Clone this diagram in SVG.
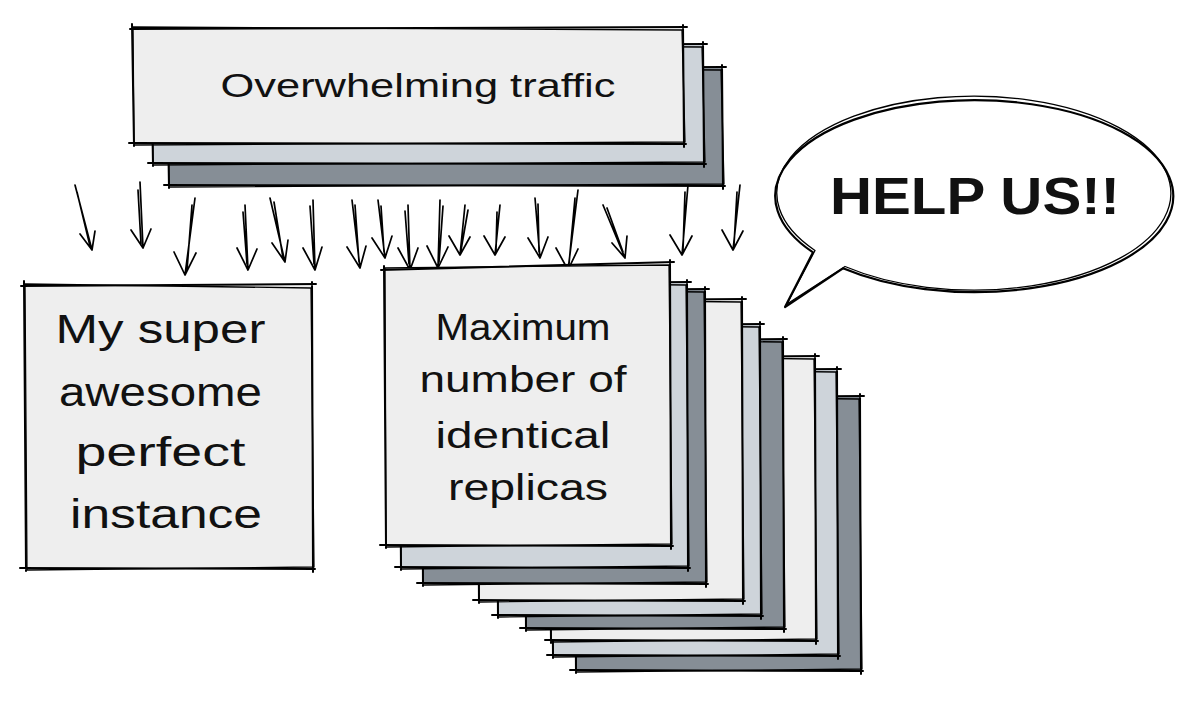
<svg xmlns="http://www.w3.org/2000/svg" width="1200" height="701" viewBox="0 0 1200 701">
<style>
.sk{fill:none;stroke:#000;stroke-width:2;stroke-linecap:round;stroke-linejoin:round}
.sk2{fill:none;stroke:#000;stroke-width:1.3;stroke-linecap:round;stroke-linejoin:round}
.lt{fill:#eeeeee}.bl{fill:#ced4da}.gr{fill:#868e96}
.t{font-family:"Liberation Sans",Arial,sans-serif;fill:#111;text-anchor:middle}
.arr path{fill:none;stroke:#000;stroke-width:1.7;stroke-linecap:round;stroke-linejoin:round}
</style>
<rect width="1200" height="701" fill="#fff"/>

<g id="traffic">
  <rect class="gr" x="168" y="68" width="554" height="117"/>
  <path class="sk" d="M165 69 L726 67 M722 65 L723 189 M725 186 L164 185 M169 188 L167 64"/>
  <path class="sk2" d="M168 67 L721 70 L724 184 L169 187 Z"/>
  <rect class="bl" x="152" y="45" width="551" height="118"/>
  <path class="sk" d="M149 46 L707 44 M703 42 L704 167 M706 164 L148 163 M153 166 L151 41"/>
  <path class="sk2" d="M152 44 L702 47 L705 162 L153 165 Z"/>
  <rect class="lt" x="133" y="28" width="550" height="115"/>
  <path class="sk" d="M130 29 L687 27 M683 25 L684 147 M686 144 L129 143 M134 146 L132 24"/>
  <path class="sk2" d="M133 27 L682 30 L685 142 L134 145 Z"/>
  <text class="t" x="418" y="97" font-size="34" textLength="395" lengthAdjust="spacingAndGlyphs">Overwhelming traffic</text>
</g>

<g id="connectors" class="arr">
  <path d="M75 185 L92 250 M77 192 L90 246 M80 234 L92 250 L95 231"/>
  <path d="M140 182 L143 248 M138 190 L141 244 M131 230 L143 248 L151 229"/>
  <path d="M195 198 L185 275 M192 205 L187 270 M174 252 L185 275 L196 253"/>
  <path d="M245 205 L248 270 M243 212 L247 264 M237 248 L248 270 L257 249"/>
  <path d="M270 198 L285 262 M274 202 L283 258 M272 243 L285 262 L288 240"/>
  <path d="M313 200 L315 270 M310 206 L314 264 M303 248 L315 270 L322 247"/>
  <path d="M352 200 L360 268 M355 205 L359 262 M347 247 L360 268 L366 246"/>
  <path d="M378 200 L385 258 M381 206 L384 252 M372 238 L385 258 L392 236"/>
  <path d="M408 205 L410 270 M405 211 L409 264 M398 248 L410 270 L418 248"/>
  <path d="M440 200 L438 268 M443 206 L439 262 M427 246 L438 268 L448 247"/>
  <path d="M465 205 L460 255 M468 210 L461 250 M449 236 L460 255 L470 237"/>
  <path d="M500 205 L495 255 M497 212 L496 250 M484 236 L495 255 L505 237"/>
  <path d="M535 198 L540 258 M538 204 L539 252 M528 238 L540 258 L548 237"/>
  <path d="M578 190 L568 270 M575 198 L569 264 M556 248 L568 270 L578 249"/>
  <path d="M603 205 L625 258 M607 208 L623 252 M612 243 L625 258 L627 236"/>
  <path d="M688 185 L682 255 M685 192 L683 250 M670 235 L682 255 L692 236"/>
  <path d="M740 185 L733 250 M737 192 L734 245 M722 230 L733 250 L743 231"/>
</g>

<g id="instance">
  <rect class="lt" x="25" y="285" width="287" height="283"/>
  <path class="sk" d="M21 286 L316 284 M312 282 L313 572 M315 569 L20 568 M26 571 L24 281"/>
  <path class="sk2" d="M25 284 L311 288 L314 567 L27 570 Z"/>
  <text class="t" font-size="40">
    <tspan x="166" y="343" textLength="210" lengthAdjust="spacingAndGlyphs">My super</tspan>
    <tspan x="166" y="406" textLength="203" lengthAdjust="spacingAndGlyphs">awesome</tspan>
    <tspan x="166" y="466" textLength="170" lengthAdjust="spacingAndGlyphs">perfect</tspan>
    <tspan x="166" y="528" textLength="192" lengthAdjust="spacingAndGlyphs">instance</tspan>
  </text>
</g>

<g id="replicas">
  <rect class="gr" x="575" y="397" width="285" height="273"/>
  <path class="sk" d="M571 398 L864 396 M860 394 L861 674 M863 671 L570 670 M576 673 L574 393"/>
  <path class="sk2" d="M575 396 L859 399 L862 669 L576 672 Z"/>
  <rect class="bl" x="552" y="370" width="285" height="285"/>
  <path class="sk" d="M548 371 L841 369 M837 367 L838 659 M840 656 L547 655 M553 658 L551 366"/>
  <path class="sk2" d="M552 369 L836 372 L839 654 L553 657 Z"/>
  <rect class="lt" x="550" y="357" width="265" height="283"/>
  <path class="sk" d="M546 358 L819 356 M815 354 L816 644 M818 641 L545 640 M551 643 L549 353"/>
  <path class="sk2" d="M550 356 L814 359 L817 639 L551 642 Z"/>
  <rect class="gr" x="525" y="340" width="258" height="288"/>
  <path class="sk" d="M521 341 L787 339 M783 337 L784 632 M786 629 L520 628 M526 631 L524 336"/>
  <path class="sk2" d="M525 339 L782 342 L785 627 L526 630 Z"/>
  <rect class="bl" x="497" y="325" width="263" height="290"/>
  <path class="sk" d="M493 326 L764 324 M760 322 L761 619 M763 616 L492 615 M498 618 L496 321"/>
  <path class="sk2" d="M497 324 L759 327 L762 614 L498 617 Z"/>
  <rect class="lt" x="478" y="300" width="264" height="300"/>
  <path class="sk" d="M474 301 L746 299 M742 297 L743 604 M745 601 L473 600 M479 603 L477 296"/>
  <path class="sk2" d="M478 299 L741 302 L744 599 L479 602 Z"/>
  <rect class="gr" x="422" y="290" width="283" height="293"/>
  <path class="sk" d="M418 291 L709 289 M705 287 L706 587 M708 584 L417 583 M423 586 L421 286"/>
  <path class="sk2" d="M422 289 L704 292 L707 582 L423 585 Z"/>
  <rect class="bl" x="400" y="283" width="287" height="284"/>
  <path class="sk" d="M396 284 L691 282 M687 280 L688 571 M690 568 L395 567 M401 570 L399 279"/>
  <path class="sk2" d="M400 282 L686 285 L689 566 L401 569 Z"/>
  <path class="lt" d="M385 268 L669 265 L671 545 L386 546 Z"/>
  <path class="sk" d="M381 270 L674 262 M670 260 L671 549 M673 546 L380 545 M386 548 L384 266"/>
  <path class="sk2" d="M385 268 L669 265 L672 544 L386 547 Z"/>
  <text class="t" font-size="36">
    <tspan x="528" y="340" textLength="175" lengthAdjust="spacingAndGlyphs">Maximum</tspan>
    <tspan x="528" y="392" textLength="207" lengthAdjust="spacingAndGlyphs">number of</tspan>
    <tspan x="528" y="448" textLength="175" lengthAdjust="spacingAndGlyphs">identical</tspan>
    <tspan x="528" y="500" textLength="160" lengthAdjust="spacingAndGlyphs">replicas</tspan>
  </text>
</g>

<g id="bubble">
  <path d="M813 252.4 A199 96 0 1 1 843 268.3 L785 307 Z" fill="#fff" stroke="#000" stroke-width="2.2" stroke-linejoin="round"/>
  <path class="sk2" d="M815 250.5 A197 97 0 1 1 845 266.5 L787 304 Z"/>
  <text class="t" x="975" y="214" font-size="52" font-weight="bold" textLength="290" lengthAdjust="spacingAndGlyphs">HELP US!!</text>
</g>
</svg>
